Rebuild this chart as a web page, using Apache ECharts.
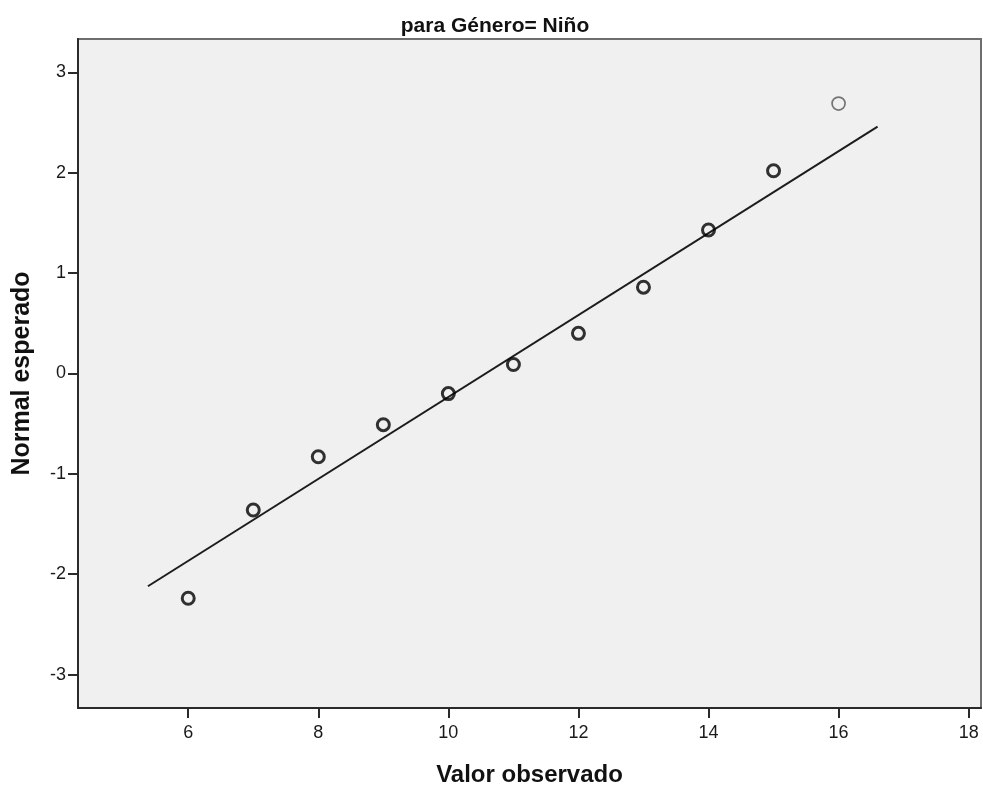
<!DOCTYPE html>
<html>
<head>
<meta charset="utf-8">
<script src="https://cdn.jsdelivr.net/npm/echarts@6/dist/echarts.min.js"></script>
<style>
  html, body { margin: 0; padding: 0; background: #ffffff; }
  #chart { width: 983px; height: 792px; }
</style>
</head>
<body>
<div id="chart"></div>
<script>
// Q-Q normal plot: observed values vs. expected normal scores
const observed = [6, 7, 8, 9, 10, 11, 12, 13, 14, 15, 16];
const expectedNormal = [-2.24, -1.36, -0.83, -0.51, -0.20, 0.09, 0.40, 0.86, 1.43, 2.02, 2.69];
// reference line endpoints (x, y)
const fitX = [5.38, 16.60];
const fitY = [-2.12, 2.46];
const xTicks = [6, 8, 10, 12, 14, 16, 18];
const yTicks = [-3, -2, -1, 0, 1, 2, 3];

const FONT = '"Liberation Sans", Arial, sans-serif';
const lastIdx = observed.length - 1;

const points = observed.map((x, i) => {
  const p = { value: [x, expectedNormal[i]] };
  if (i === lastIdx) {
    p.symbolSize = 13;
    p.itemStyle = { color: 'rgba(0,0,0,0)', borderColor: '#555555', borderWidth: 1.7 };
  }
  return p;
});

const chart = echarts.init(document.getElementById('chart'), null, { renderer: 'canvas' });
chart.setOption({
  animation: false,
  backgroundColor: '#ffffff',
  title: {
    text: 'para Género= Niño',
    left: 490, top: 11, textAlign: 'center',
    textStyle: { fontFamily: FONT, fontWeight: 'bold', fontSize: 21, color: '#111' }
  },
  grid: {
    left: 78, top: 39, right: 2, bottom: 79,
    show: true, backgroundColor: '#f0f0f0',
    borderColor: '#6e6e6e', borderWidth: 2
  },
  xAxis: {
    type: 'value', min: 4.305, max: 18.19,
    name: 'Valor observado', nameLocation: 'middle', nameGap: 55,
    nameTextStyle: { fontFamily: FONT, fontWeight: 'bold', fontSize: 24, color: '#111' },
    axisLine: { show: true, onZero: false, lineStyle: { color: '#2a2a2a', width: 2 } },
    axisTick: { show: true, inside: false, length: 10, customValues: xTicks, lineStyle: { color: '#2a2a2a', width: 2 } },
    axisLabel: { customValues: xTicks, margin: 16, fontFamily: FONT, fontSize: 18, color: '#1a1a1a' },
    splitLine: { show: false }
  },
  yAxis: {
    type: 'value', min: -3.333, max: 3.333,
    name: 'Normal esperado', nameLocation: 'middle', nameGap: 43, nameRotate: 90,
    nameTextStyle: { fontFamily: FONT, fontWeight: 'bold', fontSize: 25, color: '#111' },
    axisLine: { show: true, onZero: false, lineStyle: { color: '#2a2a2a', width: 2 } },
    axisTick: { show: true, inside: false, length: 10, customValues: yTicks, lineStyle: { color: '#2a2a2a', width: 2 } },
    axisLabel: { customValues: yTicks, margin: 12, fontFamily: FONT, fontSize: 18, color: '#1a1a1a' },
    splitLine: { show: false }
  },
  series: [
    {
      type: 'line',
      data: fitX.map((x, i) => [x, fitY[i]]),
      symbol: 'none',
      lineStyle: { color: '#1c1c1c', width: 2 },
      z: 2
    },
    {
      type: 'scatter',
      data: points,
      symbol: 'circle',
      symbolSize: 12,
      itemStyle: { color: 'rgba(0,0,0,0)', borderColor: '#000000', borderWidth: 3 },
      z: 3
    }
  ]
});
</script>
</body>
</html>
